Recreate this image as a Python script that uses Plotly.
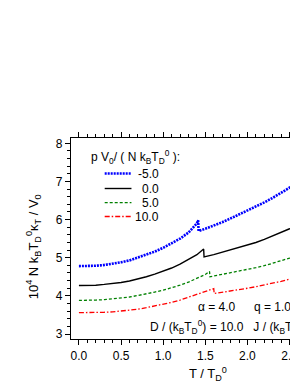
import plotly.graph_objects as go

# ---- data ----
T_m5 = [0.0, 0.1, 0.2, 0.3, 0.4, 0.5, 0.6, 0.7, 0.8, 0.9, 1.0, 1.1, 1.2, 1.3, 1.4, 1.415, 1.42,
        1.5, 1.6, 1.7, 1.8, 1.9, 2.0, 2.1, 2.2, 2.3, 2.4, 2.5, 2.6]
K_m5 = [4.78, 4.78, 4.79, 4.81, 4.84, 4.88, 4.93, 5.00, 5.07, 5.16, 5.26, 5.37, 5.50, 5.66, 5.90, 5.98, 5.70,
        5.76, 5.84, 5.93, 6.03, 6.13, 6.23, 6.34, 6.45, 6.57, 6.70, 6.83, 6.97]

T_0 = [0.0, 0.1, 0.2, 0.3, 0.4, 0.5, 0.6, 0.7, 0.8, 0.9, 1.0, 1.1, 1.2, 1.3, 1.4, 1.48, 1.485,
       1.6, 1.7, 1.8, 1.9, 2.0, 2.1, 2.2, 2.3, 2.4, 2.5, 2.6]
K_0 = [4.27, 4.27, 4.28, 4.30, 4.32, 4.35, 4.39, 4.44, 4.50, 4.57, 4.64, 4.73, 4.83, 4.95, 5.08, 5.23, 5.02,
       5.08, 5.14, 5.20, 5.26, 5.33, 5.40, 5.48, 5.57, 5.66, 5.76, 5.87]

T_5 = [0.0, 0.1, 0.2, 0.3, 0.4, 0.5, 0.6, 0.7, 0.8, 0.9, 1.0, 1.1, 1.2, 1.3, 1.4, 1.5, 1.55, 1.555,
       1.6, 1.7, 1.8, 1.9, 2.0, 2.1, 2.2, 2.3, 2.4, 2.5, 2.6]
K_5 = [3.88, 3.88, 3.89, 3.90, 3.92, 3.94, 3.97, 4.01, 4.05, 4.10, 4.15, 4.21, 4.28, 4.36, 4.45, 4.56, 4.64, 4.50,
       4.52, 4.56, 4.60, 4.64, 4.69, 4.74, 4.79, 4.85, 4.92, 4.99, 5.07]

T_10 = [0.0, 0.1, 0.2, 0.3, 0.4, 0.5, 0.6, 0.7, 0.8, 0.9, 1.0, 1.1, 1.2, 1.3, 1.4, 1.5, 1.6, 1.605,
        1.7, 1.8, 1.9, 2.0, 2.1, 2.2, 2.3, 2.4, 2.5, 2.6]
K_10 = [3.56, 3.56, 3.56, 3.57, 3.58, 3.60, 3.62, 3.65, 3.69, 3.73, 3.78, 3.83, 3.89, 3.96, 4.03, 4.11, 4.19, 4.06,
        4.09, 4.12, 4.16, 4.20, 4.24, 4.28, 4.33, 4.38, 4.44, 4.50]

series_labels = ["-5.0", "0.0", "5.0", "10.0"]
x_ticks = [0.0, 0.5, 1.0, 1.5, 2.0, 2.5]
x_ticklabels = ["0.0", "0.5", "1.0", "1.5", "2.0", "2.5"]
y_ticks = [3, 4, 5, 6, 7, 8]

# ---- styles / layout (page has an 8px body margin) ----
FONT = "Liberation Sans, Arial, sans-serif"
OFF = 8
W, H = 290, 377
L, R, T, B = 63, 0, 130, 46
styles = [
    dict(color="#0000ff", width=2.6, dash="2px,1px"),
    dict(color="#000000", width=1.4, dash="solid"),
    dict(color="#008000", width=1.3, dash="3px,2px"),
    dict(color="#ff0000", width=1.3, dash="5px,2px,1.5px,2px"),
]

fig = go.Figure()
for (xs, ys), st, name in zip([(T_m5, K_m5), (T_0, K_0), (T_5, K_5), (T_10, K_10)], styles, series_labels):
    fig.add_trace(go.Scatter(x=xs, y=ys, mode="lines", line=st, name=name, showlegend=False))

def px_x(p):  # page pixel -> paper
    return (p - OFF - L) / (W - L - R)

def px_y(p):
    return (H - B - (p - OFF)) / (H - B - T)

shapes = []
annotations = []
leg_y = [173.5, 188.5, 202.7, 216.5]
for st, lab, yy in zip(styles, series_labels, leg_y):
    shapes.append(dict(type="line", xref="paper", yref="paper",
                       x0=px_x(105), x1=px_x(132), y0=px_y(yy), y1=px_y(yy),
                       line=dict(color=st["color"], width=st["width"], dash=st["dash"])))
    annotations.append(dict(text=lab, xref="paper", yref="paper", x=px_x(162), y=px_y(yy),
                            xanchor="right", yanchor="middle", showarrow=False,
                            font=dict(family=FONT, size=12, color="black")))

def txt(text, x, y, xanchor="left", size=12, angle=0):
    annotations.append(dict(text=text, xref="paper", yref="paper", x=px_x(x), y=px_y(y),
                            xanchor=xanchor, yanchor="middle", showarrow=False, textangle=angle,
                            font=dict(family=FONT, size=size, color="black")))

txt("p V<sub>0</sub>/ ( N k<sub>B</sub>T<sub>D</sub><sup>0</sup> ):", 89, 157)
txt("α = 4.0", 197, 307)
txt("q = 1.0", 254, 307)
txt("D / (k<sub>B</sub>T<sub>D</sub><sup>0</sup>) = 10.0   J / (k<sub>B</sub>T<sub>D</sub><sup>0</sup>) = 1.0", 149, 327)
txt("T / T<sub>D</sub><sup>0</sup>", 188, 374, size=13)
txt("10<sup>4</sup> N k<sub>B</sub>T<sub>D</sub><sup>0</sup>κ<sub>T</sub> / V<sub>0</sub>", 33, 247,
    xanchor="center", size=13, angle=-90)

fig.update_layout(
    width=W, height=H,
    margin=dict(l=L, r=R, t=T, b=B, pad=0),
    paper_bgcolor="white", plot_bgcolor="white",
    font=dict(family=FONT, size=12, color="black"),
    shapes=shapes, annotations=annotations,
    showlegend=False,
)
fig.update_xaxes(range=[-0.094, 2.576], tickvals=x_ticks, ticktext=x_ticklabels,
                 ticks="outside", ticklen=5, tickwidth=1.2, tickcolor="black",
                 showline=True, linecolor="black", linewidth=1.2, mirror="ticks",
                 showgrid=False, zeroline=False, ticklabeloverflow="allow",
                 minor=dict(dtick=0.1, ticks="outside", ticklen=3, tickwidth=1, tickcolor="black", showgrid=False),
                 tickfont=dict(family=FONT, size=12, color="black"))
fig.update_yaxes(range=[2.869, 8.139], tickvals=y_ticks,
                 ticks="outside", ticklen=5, tickwidth=1.2, tickcolor="black",
                 showline=True, linecolor="black", linewidth=1.2, mirror=False,
                 showgrid=False, zeroline=False,
                 minor=dict(dtick=0.2, ticks="outside", ticklen=3, tickwidth=1, tickcolor="black", showgrid=False),
                 tickfont=dict(family=FONT, size=12, color="black"))

fig.write_html("out.html")
